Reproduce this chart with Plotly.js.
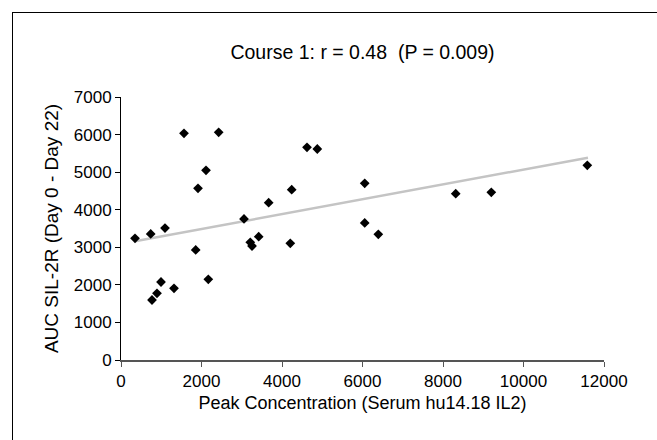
<!DOCTYPE html>
<html>
<head>
<meta charset="utf-8">
<script src="https://cdn.plot.ly/plotly-3.0.1.min.js"></script>
<style>
html,body{margin:0;padding:0;background:#fff;overflow:hidden;}
#wrap{position:relative;width:657px;height:440px;overflow:hidden;}
#chart{width:657px;height:440px;}
#frame{position:absolute;left:11.5px;top:12px;width:700px;height:500px;border-left:1.6px solid #000;border-top:1.6px solid #000;pointer-events:none;}
</style>
</head>
<body>
<div id="wrap">
<div id="chart"></div>
<div id="frame"></div>
</div>
<script>
// Peak concentration (serum hu14.18 IL2) vs AUC SIL-2R (Day 0 - Day 22)
var peakConc = [348, 738, 1093, 770, 894, 994, 1317, 1565, 1856, 1913, 2112, 2169, 2427,
                3056, 3212, 3255, 3421, 3669, 4206, 4241, 4621, 4877, 6055, 6055, 6393,
                8316, 9200, 11585];
var aucSIL2R = [3239, 3354, 3513, 1597, 1775, 2076, 1908, 6034, 2928, 4570, 5049, 2148, 6061,
                3753, 3133, 3034, 3282, 4187, 3106, 4533, 5661, 5616, 4703, 3647, 3346,
                4426, 4464, 5182];
// regression line end points
var fitX = [348, 11602];
var fitY = [3159, 5385];

var xTicks = [0, 2000, 4000, 6000, 8000, 10000, 12000];
var yTicks = [0, 1000, 2000, 3000, 4000, 5000, 6000, 7000];

var font = 'Liberation Sans, Arial, Helvetica, sans-serif';

var traces = [
  {
    x: fitX, y: fitY, mode: 'lines', type: 'scatter',
    line: {color: '#c4c4c4', width: 2.5},
    hoverinfo: 'skip', showlegend: false
  },
  {
    x: peakConc, y: aucSIL2R, mode: 'markers', type: 'scatter',
    marker: {symbol: 'diamond', size: 7.5, color: '#000'},
    showlegend: false
  }
];

var layout = {
  width: 657, height: 440,
  margin: {l: 121, r: 53, t: 97, b: 80},
  paper_bgcolor: '#fff', plot_bgcolor: '#fff',
  font: {family: font, color: '#000', size: 17},
  title: {
    text: 'Course 1: r = 0.48\u00a0\u00a0(P = 0.009)',
    font: {family: font, size: 19.5, color: '#000'},
    x: 0.5, xref: 'paper', xanchor: 'center',
    y: 0.882, yref: 'container', yanchor: 'middle'
  },
  xaxis: {
    range: [0, 12000], tickvals: xTicks, ticktext: xTicks.map(String),
    showgrid: false, zeroline: false,
    showline: true, linecolor: '#555', linewidth: 1.5,
    ticks: 'outside', ticklen: 5, tickcolor: '#555', tickwidth: 1,
    tickfont: {family: font, size: 17, color: '#000'},
    title: {text: 'Peak Concentration (Serum hu14.18 IL2)', font: {family: font, size: 18, color: '#000'}, standoff: 6},
    fixedrange: true
  },
  yaxis: {
    range: [0, 7000], tickvals: yTicks, ticktext: yTicks.map(String),
    showgrid: false, zeroline: false,
    showline: true, linecolor: '#000', linewidth: 1,
    ticks: 'outside', ticklen: 5, tickcolor: '#000', tickwidth: 1,
    tickfont: {family: font, size: 17, color: '#000'},
    title: {text: 'AUC SIL-2R (Day 0 - Day 22)', font: {family: font, size: 19, color: '#000'}, standoff: 10},
    fixedrange: true
  }
};

Plotly.newPlot('chart', traces, layout, {displayModeBar: false, staticPlot: true});
</script>
</body>
</html>
